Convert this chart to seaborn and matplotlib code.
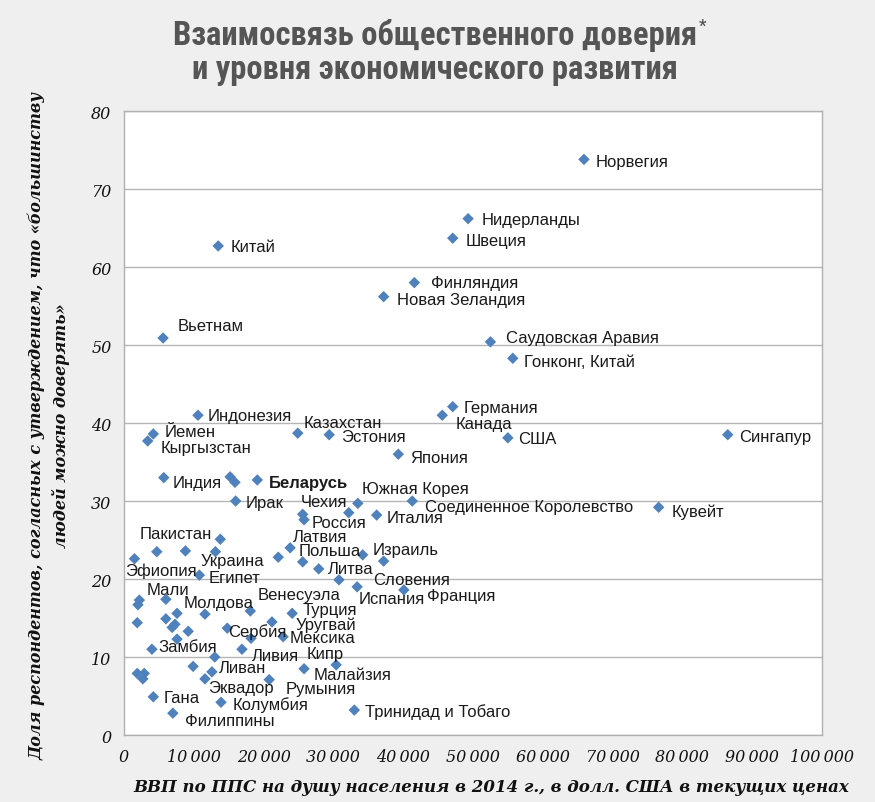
import matplotlib
matplotlib.use('Agg')
import matplotlib.pyplot as plt
from matplotlib.ticker import FuncFormatter
import seaborn as sns
import pandas as pd

countries = ['Норвегия', 'Нидерланды', 'Швеция', 'Китай', 'Финляндия', 'Новая Зеландия',
             'Вьетнам', 'Саудовская Аравия', 'Гонконг, Китай', 'Германия', 'Канада',
             'Индонезия', 'Казахстан', 'Эстония', 'Йемен', 'Кыргызстан', 'США', 'Сингапур',
             'Япония', 'Индия', '', '', 'Беларусь', 'Ирак', 'Чехия', 'Южная Корея',
             'Соединенное Королевство', '', 'Россия', 'Италия', 'Кувейт', 'Пакистан', '', '',
             'Украина', 'Эфиопия', 'Египет', 'Латвия', '', 'Польша', 'Израиль', '', 'Литва',
             'Словения', 'Испания', 'Франция', 'Мали', '', '', '', '', '', '', '', '', '',
             'Молдова', 'Замбия', 'Сербия', 'Венесуэла', '', 'Ливия', 'Ливан', '', '',
             'Эквадор', '', '', '', 'Гана', 'Филиппины', 'Колумбия', 'Румыния', 'Уругвай',
             'Турция', 'Мексика', 'Малайзия', 'Кипр', 'Тринидад и Тобаго']

gdp = [65.9, 49.3, 47.1, 13.5, 41.6, 37.2,
       5.6, 52.5, 55.7, 47.1, 45.6,
       10.6, 24.9, 29.4, 4.2, 3.4, 55.0, 86.5,
       39.3, 5.7, 15.2, 15.9, 19.1, 16.0, 32.2, 33.5,
       41.3, 25.6, 25.8, 36.2, 76.6, 4.7, 8.8, 13.8,
       13.1, 1.5, 10.8, 23.8, 22.1, 25.6, 34.2, 37.2, 27.9,
       30.8, 33.4, 40.1, 6.0, 2.2, 2.0, 1.9, 7.6, 6.0, 7.3, 6.9, 9.2, 7.6,
       11.6, 4.0, 14.8, 18.1, 18.2, 16.9, 13.0, 9.9, 12.6,
       11.6, 1.9, 2.9, 2.7, 4.2, 7.0, 13.9, 20.8, 21.2,
       24.1, 22.8, 25.8, 30.4, 33.0]

trust = [73.8, 66.2, 63.7, 62.7, 58.0, 56.2,
         50.9, 50.4, 48.3, 42.1, 41.0,
         41.0, 38.7, 38.5, 38.6, 37.7, 38.1, 38.5,
         36.0, 33.0, 33.1, 32.4, 32.7, 30.0, 28.5, 29.7,
         30.0, 28.3, 27.6, 28.2, 29.2, 23.5, 23.6, 25.1,
         23.5, 22.6, 20.5, 24.0, 22.8, 22.2, 23.1, 22.3, 21.3,
         19.9, 19.0, 18.6, 17.4, 17.3, 16.7, 14.4, 15.6, 14.9, 14.2, 13.8, 13.3, 12.3,
         15.5, 11.0, 13.7, 15.9, 12.4, 11.0, 10.0, 8.8, 8.1,
         7.2, 7.9, 7.9, 7.2, 4.9, 2.8, 4.2, 7.1, 14.5,
         15.6, 12.6, 8.5, 9.0, 3.2]

# label offsets in pixels (right, down) from the marker, plus alignment
offsets = {
    'Норвегия': (12, 2), 'Нидерланды': (14, 1), 'Швеция': (13, 2), 'Китай': (12, 1),
    'Финляндия': (17, 0), 'Новая Зеландия': (13, 3), 'Вьетнам': (15, -13),
    'Саудовская Аравия': (16, -4), 'Гонконг, Китай': (11, 3), 'Германия': (11, 1),
    'Канада': (13, 8), 'Индонезия': (10, 0), 'Казахстан': (6, -11), 'Эстония': (12, 2),
    'Йемен': (11, -2), 'Кыргызстан': (13, 7), 'США': (10, 1), 'Сингапур': (11, 2),
    'Япония': (12, 3), 'Индия': (9, 5), 'Беларусь': (12, 3), 'Ирак': (10, 1),
    'Чехия': (-1, -11, 'right'), 'Южная Корея': (4, -15), 'Соединенное Королевство': (13, 5),
    'Россия': (8, 3), 'Италия': (10, 2), 'Кувейт': (13, 4), 'Пакистан': (-17, -18),
    'Украина': (-15, 9), 'Эфиопия': (-9, 12), 'Египет': (9, 2), 'Латвия': (3, -11),
    'Польша': (-4, -11), 'Израиль': (10, -5), 'Литва': (9, 0), 'Словения': (34, 0),
    'Испания': (2, 12), 'Франция': (23, 6), 'Мали': (-19, -10), 'Молдова': (-21, -12),
    'Замбия': (6, -3), 'Сербия': (1, 3), 'Венесуэла': (7, -17), 'Ливия': (10, 6),
    'Ливан': (4, 10), 'Эквадор': (3, 9), 'Гана': (10, 1), 'Филиппины': (12, 7),
    'Колумбия': (12, 2), 'Румыния': (16, 9), 'Уругвай': (24, 2), 'Турция': (10, -4),
    'Мексика': (6, 1), 'Малайзия': (10, 6), 'Кипр': (-11, -11, 'center'),
    'Тринидад и Тобаго': (11, 1),
}

df = pd.DataFrame({'country': countries, 'gdp': [g * 1000 for g in gdp], 'trust': trust})

sns.set_style('white')
plt.rcParams['font.family'] = ['Liberation Sans', 'DejaVu Sans']

fig = plt.figure(figsize=(8.75, 8.03), dpi=100, facecolor='#efefef')
ax = fig.add_axes([0.1417, 0.0834, 0.7977, 0.7771])
ax.set_facecolor('white')

sns.scatterplot(data=df, x='gdp', y='trust', marker='D', color='#4f81bd', s=34,
                edgecolor='none', ax=ax, zorder=3)

for name, x, y in zip(df['country'], df['gdp'], df['trust']):
    if not name:
        continue
    off = offsets.get(name, (10, 0))
    ha = off[2] if len(off) > 2 else 'left'
    ax.annotate(name, (x, y), xytext=(off[0], -off[1]), textcoords='offset pixels',
                ha=ha, va='center', fontsize=12, color='#1a1a1a',
                fontweight='bold' if name == 'Беларусь' else 'normal', zorder=4)

ax.set_xlim(0, 100000)
ax.set_ylim(0, 80)
ax.set_xticks(range(0, 100001, 10000))
ax.set_yticks(range(0, 81, 10))
ax.xaxis.set_major_formatter(FuncFormatter(lambda v, p: f'{int(v):,}'.replace(',', '\u2009')))
ax.yaxis.grid(True, color='#b5b5b5', lw=1)
ax.xaxis.grid(False)
ax.set_axisbelow(True)
for s in ax.spines.values():
    s.set_color('#b0b0b0')
    s.set_linewidth(1)
ax.tick_params(length=0, pad=9)
for lab in ax.get_xticklabels() + ax.get_yticklabels():
    lab.set_family('DejaVu Serif')
    lab.set_style('italic')
    lab.set_fontsize(11.5)
    lab.set_color('#111111')
ax.set_xlabel('')
ax.set_ylabel('')

fig.text(0.562, 0.019, 'ВВП по ППС на душу населения в 2014 г., в долл. США в текущих ценах',
         ha='center', va='center', family='DejaVu Serif', style='italic', weight='bold',
         fontsize=12, color='#111111')
fig.text(0.056, 0.47,
         'Доля респондентов, согласных с утверждением, что «большинству\nлюдей можно доверять»',
         rotation=90, ha='center', va='center', multialignment='center', linespacing=1.4,
         family='DejaVu Serif', style='italic', weight='bold', fontsize=11.5, color='#111111')

title_font = ['Liberation Sans Narrow', 'Roboto Condensed', 'Open Sans Condensed',
              'DejaVu Sans Condensed', 'Noto Sans Condensed', 'Roboto', 'DejaVu Sans']
t1 = fig.text(0.497, 0.956, 'Взаимосвязь общественного доверия', ha='center', va='center',
              family=title_font, weight='black', stretch='condensed', fontsize=23.5,
              color='#555555')
fig.text(0.497, 0.913, 'и уровня экономического развития', ha='center', va='center',
         family=title_font, weight='black', stretch='condensed', fontsize=23.5, color='#555555')
ax.annotate('*', xy=(1, 1), xycoords=t1, xytext=(1, 0), textcoords='offset points',
            ha='left', va='top', family=title_font, weight='bold', fontsize=12,
            color='#555555', annotation_clip=False)

plt.savefig('out.png', dpi=100, facecolor=fig.get_facecolor())
